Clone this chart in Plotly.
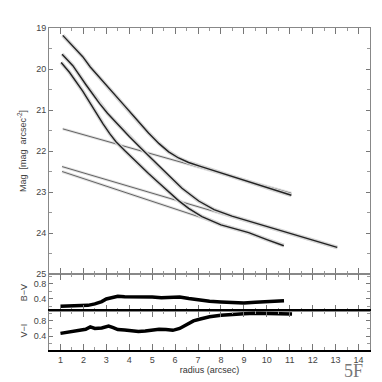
import plotly.graph_objects as go

# surface brightness profiles (radius in arcsec, mag/arcsec^2)
r_a = [1.10, 1.5, 1.97, 2.3, 2.70, 3.05, 3.43, 3.8, 4.16, 4.5, 4.84, 5.3, 5.72, 6.15, 6.59, 7.07, 7.76, 8.5, 9.21, 9.65, 10.3, 11.07]
mag_a = [19.18, 19.43, 19.70, 19.95, 20.21, 20.43, 20.66, 20.90, 21.13, 21.35, 21.56, 21.82, 22.02, 22.17, 22.28, 22.37, 22.49, 22.62, 22.75, 22.83, 22.95, 23.08]

r_b = [1.07, 1.54, 2.12, 2.70, 3.05, 3.43, 4.01, 4.6, 4.84, 5.2, 5.57, 6.30, 7.03, 7.7, 8.48, 9.21, 10.0, 11.0, 12.0, 13.07]
mag_b = [19.64, 19.92, 20.39, 20.84, 21.08, 21.31, 21.65, 21.98, 22.11, 22.32, 22.52, 22.91, 23.22, 23.43, 23.59, 23.71, 23.85, 24.01, 24.18, 24.35]

r_c = [1.03, 1.39, 1.97, 2.41, 2.85, 3.14, 3.43, 3.8, 4.2, 4.84, 5.32, 5.72, 6.15, 6.59, 7.17, 8.0, 8.6, 9.21, 10.0, 10.74]
mag_c = [19.84, 20.08, 20.54, 20.95, 21.33, 21.57, 21.78, 21.99, 22.21, 22.55, 22.79, 23.00, 23.21, 23.40, 23.60, 23.80, 23.90, 23.99, 24.16, 24.31]

# exponential disk fits (start / end)
fit1_r = [1.10, 11.07]
fit1_mag = [21.46, 23.03]
fit2_r = [1.07, 13.07]
fit2_mag = [22.38, 24.36]
fit3_r = [1.07, 10.74]
fit3_mag = [22.50, 24.29]

# colour profiles
bv_r = [1.0, 1.3, 1.6, 1.9, 2.2, 2.5, 2.8, 3.0, 3.2, 3.5, 3.8, 4.2, 4.6, 5.0, 5.4, 5.8, 6.2, 6.6, 7.0, 7.5, 8.0, 8.5, 9.0, 9.5, 10.0, 10.5, 10.75]
bv = [0.21, 0.22, 0.21, 0.23, 0.23, 0.27, 0.33, 0.40, 0.42, 0.47, 0.46, 0.46, 0.47, 0.45, 0.43, 0.44, 0.45, 0.41, 0.37, 0.34, 0.32, 0.31, 0.29, 0.31, 0.32, 0.33, 0.35]

vi_r = [1.0, 1.3, 1.6, 1.9, 2.1, 2.3, 2.5, 2.8, 3.1, 3.3, 3.5, 3.8, 4.1, 4.4, 4.7, 5.0, 5.3, 5.6, 5.9, 6.2, 6.5, 6.8, 7.1, 7.5, 8.0, 8.5, 9.0, 9.5, 10.0, 10.5, 11.1]
vi = [0.47, 0.50, 0.52, 0.55, 0.58, 0.64, 0.60, 0.61, 0.66, 0.62, 0.57, 0.56, 0.54, 0.52, 0.53, 0.55, 0.58, 0.57, 0.55, 0.60, 0.70, 0.80, 0.85, 0.91, 0.95, 0.98, 0.99, 1.0, 1.0, 1.0, 0.98]

fig = go.Figure()

# fits drawn first (thin grey)
for fr, fm in [(fit1_r, fit1_mag), (fit2_r, fit2_mag), (fit3_r, fit3_mag)]:
    fig.add_trace(go.Scatter(x=fr, y=fm, mode='lines', line=dict(color='#e2e2e2', width=3),
                             showlegend=False, xaxis='x', yaxis='y'))
    fig.add_trace(go.Scatter(x=fr, y=fm, mode='lines', line=dict(color='#555', width=0.9),
                             showlegend=False, xaxis='x', yaxis='y'))

# profiles: fuzzy grey halo + dark line
for rr, mm in [(r_a, mag_a), (r_b, mag_b), (r_c, mag_c)]:
    fig.add_trace(go.Scatter(x=rr, y=mm, mode='lines', line=dict(color='#d6d6d6', width=4),
                             showlegend=False, xaxis='x', yaxis='y'))
    fig.add_trace(go.Scatter(x=rr, y=mm, mode='lines', line=dict(color='#222', width=1.4),
                             showlegend=False, xaxis='x', yaxis='y'))

fig.add_trace(go.Scatter(x=bv_r, y=bv, mode='lines', line=dict(color='black', width=3.5),
                         showlegend=False, xaxis='x2', yaxis='y2'))
fig.add_trace(go.Scatter(x=vi_r, y=vi, mode='lines', line=dict(color='black', width=3.5),
                         showlegend=False, xaxis='x3', yaxis='y3'))

tickfont = dict(family='Liberation Sans, Arial', size=9, color='#444')
xcommon = dict(range=[0.5, 14.5], dtick=1, ticks='inside', ticklen=6, tickcolor='#777',
               minor=dict(dtick=0.5, ticks='inside', ticklen=3, tickcolor='#999'),
               showline=True, linecolor='#888', linewidth=1, mirror='allticks',
               showgrid=False, zeroline=False, tickfont=tickfont)
ycommon = dict(ticks='inside', ticklen=4, tickcolor='#777', showline=True, linecolor='#888',
               linewidth=1, mirror='allticks', showgrid=False, zeroline=False, tickfont=tickfont)

fig.update_layout(
    width=382, height=382,
    margin=dict(l=41, r=20, t=20, b=40),
    paper_bgcolor='white', plot_bgcolor='white',
    xaxis=dict(xcommon, anchor='y', showticklabels=False),
    xaxis2=dict(xcommon, anchor='y2', matches='x', showticklabels=False),
    xaxis3=dict(xcommon, anchor='y3', matches='x', linecolor='black', linewidth=1.5,
                title=dict(text='radius (arcsec)', font=dict(family='Liberation Sans, Arial', size=9, color='#333'), standoff=2)),
    yaxis=dict(ycommon, domain=[0.236, 1], range=[25, 19], dtick=1,
               minor=dict(dtick=0.5, ticks='inside', ticklen=3, tickcolor='#999'),
               title=dict(text='Mag  [mag  arcsec<sup>-2</sup>]', font=dict(family='Liberation Sans, Arial', size=9, color='#444'), standoff=8)),
    yaxis2=dict(ycommon, domain=[0.121, 0.236], range=[0.08, 1.06], tickvals=[0.4, 0.8],
                minor=dict(dtick=0.2, ticks='inside', ticklen=3, tickcolor='#999'),
                title=dict(text='B\u2212V', font=dict(family='Liberation Sans, Arial', size=9, color='#444'), standoff=4)),
    yaxis3=dict(ycommon, domain=[0, 0.121], range=[0.03, 1.06], tickvals=[0.4, 0.8],
                minor=dict(dtick=0.2, ticks='inside', ticklen=3, tickcolor='#999'),
                title=dict(text='V\u2212I', font=dict(family='Liberation Sans, Arial', size=9, color='#444'), standoff=4)),
    annotations=[dict(text='5F', xref='paper', yref='paper', x=0.985, y=-0.066,
                      xanchor='right', yanchor='middle', showarrow=False,
                      font=dict(family='Liberation Serif, Times New Roman', size=18, color='#777'))],
)

fig.write_html("out.html")
